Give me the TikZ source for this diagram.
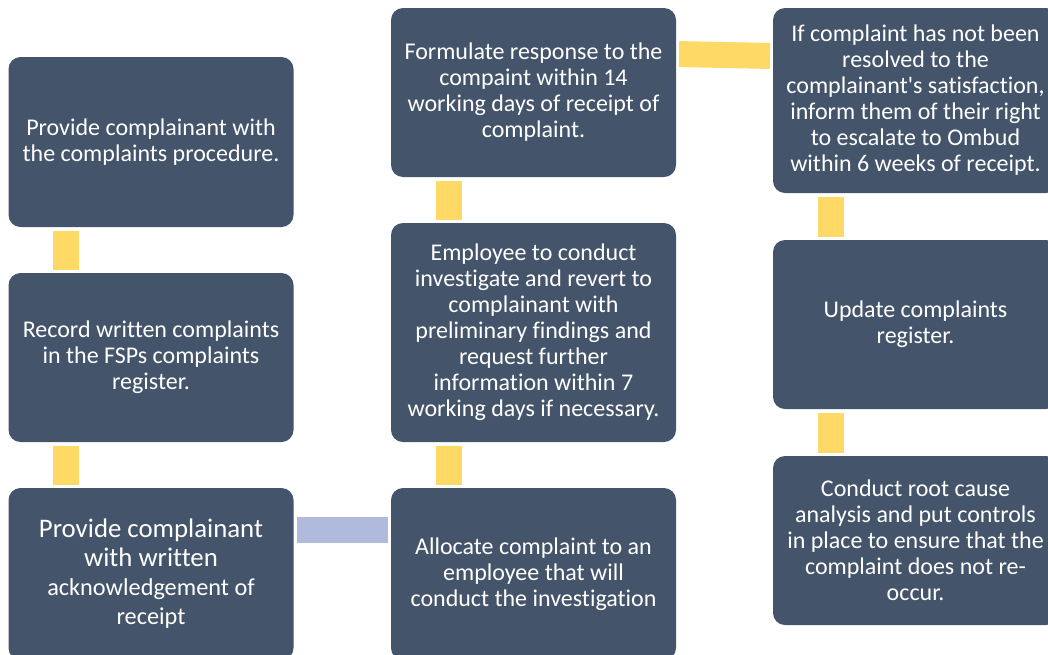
\documentclass[tikz,border=0pt]{standalone}
\usepackage{fontspec}
\setmainfont{Carlito}[Ligatures=NoCommon]
\usepackage{tikz}
\usepackage{xcolor}
\usetikzlibrary{positioning}
\definecolor{slate}{HTML}{44546A}
\definecolor{barYellow}{HTML}{FFD966}
\definecolor{barBlue}{HTML}{AFBADD}

\begin{document}
\begin{tikzpicture}
  [x=1pt,y=-1pt,
   every node/.style={rectangle,rounded corners=12pt,fill=slate,text=white,align=center,
     minimum width=285pt,anchor=north west,inner sep=4pt,outer sep=0pt,
     font=\fontsize{24}{26}\selectfont},
   ybar/.style={draw=barYellow,line width=26pt,shorten <=3.5pt,shorten >=3.5pt},
   bbar/.style={draw=barBlue,line width=26pt,shorten <=3pt,shorten >=3pt}]
  \path[use as bounding box,clip] (0,0) rectangle (1048,654);

  \node[minimum height=170pt] (proc) at (8.5,57) {Provide complainant with\\the complaints procedure.};
  \node[minimum height=169pt] (record) at (8.5,273) {Record written complaints\\in the FSPs complaints\\register.};
  \node[minimum height=172pt,font=\fontsize{26.8}{29}\selectfont] (ack) at (8.5,488)
    {Provide complainant\\with written\\\fontsize{24.3}{29}\selectfont acknowledgement of\\\fontsize{24.3}{29}\selectfont receipt};

  \node[minimum height=169pt] (formulate) at (391,8) {Formulate response to the\\compaint within 14\\working days of receipt of\\complaint.};
  \node[minimum height=219pt] (investigate) at (391,223) {Employee to conduct\\investigate and revert to\\complainant with\\preliminary findings and\\request further\\information within 7\\working days if necessary.};
  \node[minimum height=172pt] (allocate) at (391,488) {Allocate complaint to an\\employee that will\\conduct the investigation};

  \node[minimum height=185pt] (escalate) at (773,8) {If complaint has not been\\resolved to the\\complainant\textquotesingle s satisfaction,\\inform them of their right\\to escalate to Ombud\\within 6 weeks of receipt.};
  \node[minimum height=169pt] (update) at (773,240) {Update complaints\\register.};
  \node[minimum height=169pt] (rootcause) at (773,456) {Conduct root cause\\analysis and put controls\\in place to ensure that the\\complaint does not re-\\occur.};

  \foreach \from/\to in {proc/record,record/ack,formulate/investigate,investigate/allocate,escalate/update,update/rootcause}
    \draw[ybar] ([xshift=57.5pt]\from.south west) -- ([xshift=57.5pt]\to.north west);

  \draw[bbar] ([yshift=-42pt]ack.north east) -- ([yshift=-42pt]allocate.north west);
  \draw[ybar,shorten <=3pt,shorten >=3pt] ([yshift=-46pt]formulate.north east) -- ([yshift=-48pt]escalate.north west);

\end{tikzpicture}
\end{document}
